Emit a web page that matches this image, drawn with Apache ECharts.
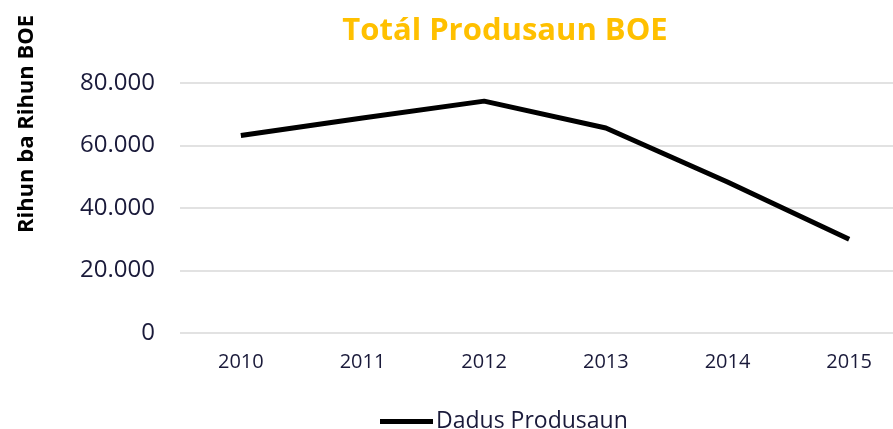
<!DOCTYPE html>
<html>
<head>
<meta charset="utf-8">
<style>
  html, body { margin: 0; padding: 0; background: #fff; overflow: hidden; }
  #chart { width: 910px; height: 429px; }
</style>
<script src="https://cdn.jsdelivr.net/npm/echarts@6/dist/echarts.min.js"></script>
</head>
<body>
<div id="chart"></div>
<script>
// dados
var years = ['2010', '2011', '2012', '2013', '2014', '2015'];
var produsaun = [63200, 68800, 74200, 65600, 48300, 30000];
var yTicks = [0, 20000, 40000, 60000, 80000];

var myChart = echarts.init(document.getElementById('chart'));
var fontName = '"Open Sans", "Noto Sans", sans-serif';

var option = {
    animation: false,
    title: {
        text: 'Totál Produsaun BOE',
        left: 500,
        top: 11,
        textAlign: 'center',
        textStyle: {
            color: '#ffc000',
            fontSize: 31,
            fontWeight: 'bold',
            fontFamily: fontName
        }
    },
    graphic: [{
        type: 'text',
        x: 27,
        y: 124,
        rotation: Math.PI / 2,
        style: {
            text: 'Rihun ba Rihun BOE',
            fill: '#000',
            font: 'bold 22px ' + fontName,
            align: 'center',
            verticalAlign: 'middle'
        }
    }],
    legend: {
        data: ['Dadus Produsaun'],
        left: 375,
        top: 405,
        itemWidth: 53,
        itemHeight: 5,
        itemGap: 4,
        icon: 'rect',
        textStyle: {
            color: '#1a1a3a',
            fontSize: 23,
            fontFamily: fontName,
            padding: [0, 0, 0, -2]
        }
    },
    grid: {
        left: 180,
        width: 730,
        top: 83,
        height: 250,
        containLabel: false
    },
    xAxis: {
        type: 'category',
        data: years,
        boundaryGap: true,
        axisLine: { show: false },
        axisTick: { show: false },
        axisLabel: {
            color: '#1a1a3a',
            fontSize: 20,
            fontFamily: fontName,
            margin: 19
        }
    },
    yAxis: {
        type: 'value',
        min: yTicks[0],
        max: yTicks[yTicks.length - 1],
        interval: yTicks[1] - yTicks[0],
        axisLine: { show: false },
        axisTick: { show: false },
        axisLabel: {
            color: '#1a1a3a',
            fontSize: 24,
            fontFamily: fontName,
            margin: 25,
            formatter: function (v) {
                return v === 0 ? '0' : (v / 1000) + '.000';
            }
        },
        splitLine: {
            lineStyle: { color: '#d9d9d9', width: 1.5 }
        }
    },
    series: [{
        name: 'Dadus Produsaun',
        type: 'line',
        data: produsaun,
        symbol: 'none',
        itemStyle: { color: '#000' },
        lineStyle: { color: '#000', width: 5 }
    }]
};
myChart.setOption(option);
</script>
</body>
</html>
